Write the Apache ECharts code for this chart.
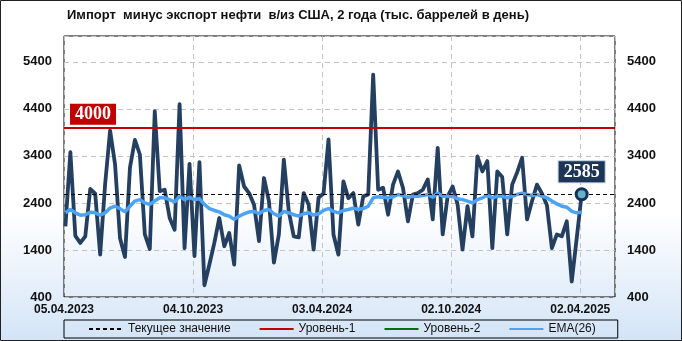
<!DOCTYPE html>
<html>
<head>
<meta charset="utf-8">
<script src="https://cdn.jsdelivr.net/npm/echarts@6/dist/echarts.min.js"></script>
<style>
html,body{margin:0;padding:0;background:#fff;}
#chart{width:682px;height:341px;}
</style>
</head>
<body>
<div id="chart"></div>
<script>
// ---- data ----
const titleText = 'Импорт  минус экспорт нефти  в/из США, 2 года (тыс. баррелей в день)';
const firstDate = [7, 4, 2023];          // first weekly observation (d, m, y)
const axisStartDate = [5, 4, 2023];     // first axis tick label (d, m, y)
const axisSpanDays = 777;
const tickStepDays = 182;
const values = [
  1900, 3480, 1700, 1550, 1690, 2700, 2600, 1300, 2800, 3940,
  3220, 1650, 1250, 3150, 3740, 3430, 1730, 1420, 4350, 2650,
  2680, 2080, 1830, 4500, 1440, 3230, 1270, 3270, 650, 1090,
  1550, 2080, 1480, 1760, 1090, 3200, 2750, 2610, 2360, 1590,
  2930, 2440, 1130, 1730, 3320, 2220, 1690, 1670, 2610, 2360,
  1410, 2510, 2600, 3750, 1730, 1300, 2860, 2500, 2610, 1940,
  2540, 2580, 5130, 2680, 2720, 2150, 2790, 3070, 2720, 2010,
  2580, 2610, 2680, 2900, 2050, 3570, 1730, 2540, 2750, 2370,
  1410, 2330, 1690, 3390, 3070, 3290, 1440, 3070, 2950, 1730,
  2790, 3050, 3360, 2050, 2440, 2790, 2600, 2350, 1440, 1730,
  1690, 2010, 730, 1650, 2585
];
const ema26 = [
  2190, 2260, 2190, 2140, 2150, 2200, 2190, 2140, 2190, 2290,
  2330, 2280, 2210, 2330, 2440, 2470, 2400, 2370, 2440, 2510,
  2510, 2470, 2420, 2540, 2470, 2520, 2470, 2490, 2370, 2280,
  2240, 2210, 2150, 2120, 2050, 2120, 2170, 2210, 2220, 2170,
  2240, 2260, 2170, 2120, 2220, 2190, 2150, 2120, 2170, 2190,
  2140, 2170, 2240, 2280, 2220, 2190, 2240, 2260, 2290, 2260,
  2280, 2330, 2510, 2530, 2520, 2510, 2530, 2580, 2560, 2520,
  2540, 2540, 2560, 2580, 2520, 2610, 2540, 2540, 2540, 2490,
  2470, 2440, 2400, 2470, 2510, 2560, 2510, 2540, 2540, 2510,
  2540, 2580, 2610, 2580, 2560, 2580, 2540, 2510, 2440, 2380,
  2330, 2310, 2220, 2190, 2200
];
const level1 = 4000;
const yMin = 400, yMax = 5950, yStep = 1000;
const legendNames = ['Текущее значение', 'Уровень-1', 'Уровень-2', 'EMA(26)'];

// ---- build ----
const DAY = 86400000;
const utc = (a) => Date.UTC(a[2], a[1] - 1, a[0]);
const x0 = utc(firstDate);
const dates = values.map((_, i) => x0 + i * 7 * DAY);
const axisMin = utc(axisStartDate);
const axisMax = axisMin + axisSpanDays * DAY;
const lastIdx = values.length - 1;
const lastVal = values[lastIdx];
const pad = n => (n < 10 ? '0' : '') + n;
const fmtDate = v => { const d = new Date(v); return pad(d.getUTCDate()) + '.' + pad(d.getUTCMonth() + 1) + '.' + d.getUTCFullYear(); };

const FONT = 'Liberation Sans';
const chart = echarts.init(document.getElementById('chart'), null, {renderer: 'canvas'});
const yAxisCommon = {
  type: 'value', min: yMin, max: yMax, interval: yStep,
  axisLine: {show: false}, axisTick: {show: false},
  splitLine: {show: true, lineStyle: {color: '#c4c4c4', type: [5, 4], width: 1}},
  axisLabel: {formatter: v => String(v), color: '#111', fontFamily: FONT, fontWeight: 'bold', fontSize: 13, margin: 12, showMaxLabel: false}
};
chart.setOption({
  animation: false,
  backgroundColor: {
    type: 'linear', x: 0, y: 0, x2: 0, y2: 1,
    colorStops: [{offset: 0, color: '#ffffff'}, {offset: 0.62, color: '#ffffff'}, {offset: 1, color: '#d3e4f7'}]
  },
  title: {
    text: titleText, left: 62, top: 4,
    textStyle: {fontFamily: FONT, fontWeight: 'bold', fontSize: 13, color: '#111'}
  },
  graphic: [{
    type: 'rect', shape: {x: 0.5, y: 0.5, width: 681, height: 340},
    style: {fill: 'none', stroke: '#222', lineWidth: 1}, z: 100, silent: true
  }],
  grid: {left: 64, right: 67, top: 36, bottom: 44, show: true, borderColor: '#000', borderWidth: 1, backgroundColor: 'transparent'},
  xAxis: {
    type: 'value', min: axisMin, max: axisMax, interval: tickStepDays * DAY,
    axisLine: {show: false}, axisTick: {show: false},
    splitLine: {show: true, lineStyle: {color: '#c4c4c4', type: [5, 4], width: 1}},
    axisLabel: {formatter: fmtDate, color: '#111', fontFamily: FONT, fontWeight: 'bold', fontSize: 12, margin: 7, showMaxLabel: false}
  },
  yAxis: [Object.assign({position: 'left'}, yAxisCommon), Object.assign({position: 'right'}, yAxisCommon)],
  legend: {
    data: legendNames,
    left: 64, bottom: 3,
    padding: [3, 22, 3, 24],
    itemGap: 28, itemWidth: 34, itemHeight: 10,
    itemStyle: {opacity: 0},
    borderColor: '#000', borderWidth: 1,
    textStyle: {fontFamily: FONT, fontSize: 12, color: '#111'}
  },
  series: [
    {
      name: 'Уровень-1', type: 'line', data: [], symbol: 'none',
      lineStyle: {color: '#c00000', width: 2}, itemStyle: {color: '#c00000'}, z: 2,
      markLine: {
        silent: true, symbol: 'none', animation: false,
        lineStyle: {color: '#c00000', width: 2, type: 'solid'},
        label: {
          show: true, position: 'insideStartTop', distance: [6, 3], formatter: '{c}',
          backgroundColor: '#c00000', color: '#fff', fontFamily: 'Liberation Serif', fontWeight: 'bold', fontSize: 18,
          padding: [2, 5, 1, 5]
        },
        data: [{yAxis: level1}]
      }
    },
    {
      name: 'Уровень-2', type: 'line', data: [], symbol: 'none',
      lineStyle: {color: '#007000', width: 3}, itemStyle: {color: '#007000'}
    },
    {
      name: 'Импорт минус экспорт', type: 'line', symbol: 'none', z: 3,
      data: values.map((v, i) => [dates[i], v]),
      lineStyle: {color: '#243f60', width: 3.8, join: 'round'}, itemStyle: {color: '#243f60'}
    },
    {
      name: 'EMA(26)', type: 'line', symbol: 'none', z: 4,
      data: ema26.map((v, i) => [dates[i], v]),
      lineStyle: {color: '#4aa3f7', width: 3.5}, itemStyle: {color: '#4aa3f7'}
    },
    {
      name: 'Текущее значение', type: 'line', data: [], symbol: 'none', z: 5,
      lineStyle: {color: '#000', width: 1, type: [4, 3]}, itemStyle: {color: '#000'},
      markLine: {
        silent: true, symbol: 'none', animation: false, label: {show: false},
        lineStyle: {color: '#000', width: 1, type: [4, 3]},
        data: [{yAxis: lastVal}]
      }
    },
    {
      name: 'Последняя точка', type: 'scatter', z: 6, silent: true,
      data: [[dates[lastIdx], lastVal]],
      symbol: 'circle', symbolSize: 11,
      itemStyle: {color: '#62b4c8', borderColor: '#14305a', borderWidth: 3, opacity: 1},
      label: {
        show: true, position: 'top', distance: 5,
        formatter: p => String(p.value[1]),
        backgroundColor: '#1d3557', borderColor: '#b8c6d8', borderWidth: 1,
        color: '#fff', fontFamily: 'Liberation Serif', fontWeight: 'bold', fontSize: 18,
        padding: [2, 5, 1, 5], opacity: 1
      }
    }
  ]
});
</script>
</body>
</html>
